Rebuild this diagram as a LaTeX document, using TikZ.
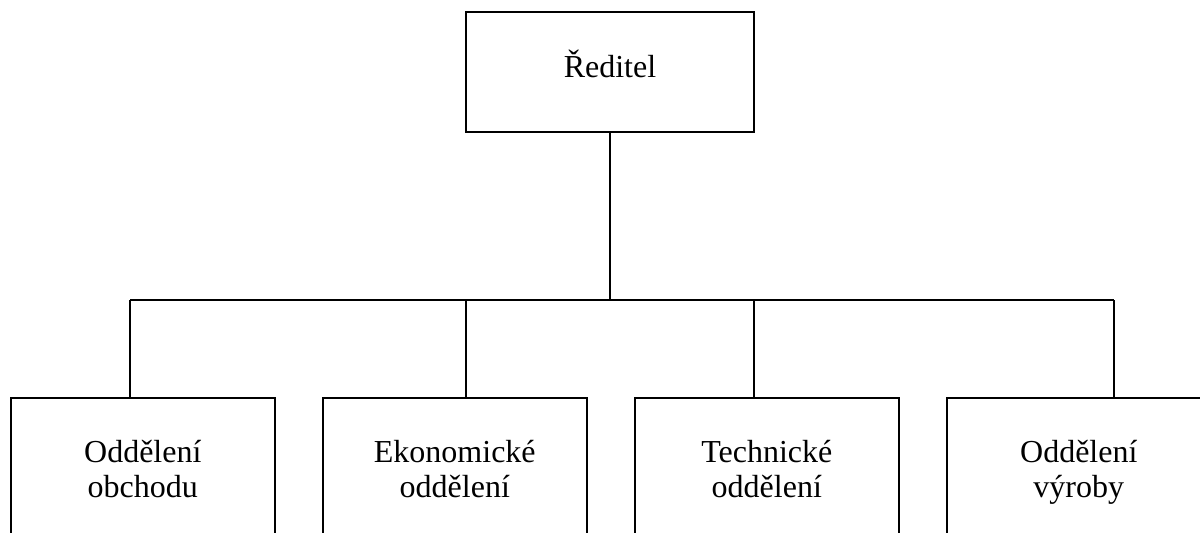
\documentclass[tikz,border=0pt]{standalone}
\usepackage{fontspec}
\setmainfont{Liberation Serif}
\begin{document}
\begin{tikzpicture}[x=1pt,y=-1pt,
  line width=1.6pt,
  orgbox/.style={draw=black, fill=white, inner sep=0pt, align=center,
    font=\fontsize{32}{35}\selectfont},
  headbox/.style={orgbox, minimum width=288pt, minimum height=120pt,
    text height=20pt, text depth=10pt},
  deptbox/.style={orgbox, minimum width=264pt, minimum height=160pt,
    text height=55pt, text depth=15pt},
  link/.style={draw=black, line width=1.6pt}]
\useasboundingbox (0,0) rectangle (1200,533);
\clip (0,0) rectangle (1200,533);

% head of the company
\node[headbox] (boss) at (610,72) {Ředitel};

% departments
\node[deptbox, anchor=north west] (d1) at (10,397) {Oddělení\\obchodu};
\node[deptbox, anchor=north west] (d2) at (322,397) {Ekonomické\\oddělení};
\node[deptbox, anchor=north west] (d3) at (634,397) {Technické\\oddělení};
\node[deptbox, anchor=north west] (d4) at (946,397) {Oddělení\\výroby};

% junction points on the distribution line
\coordinate (bus) at (610,300);
\coordinate (j1) at (130,300);
\coordinate (j2) at (466,300);
\coordinate (j3) at (754,300);
\coordinate (j4) at (1114,300);

\draw[link] (boss.south) -- (bus);
\draw[link] (j1) -- (j4);
\draw[link] (j1) -- (j1 |- d1.north);
\draw[link] (j2) -- (j2 |- d2.north);
\draw[link] (j3) -- (j3 |- d3.north);
\draw[link] (j4) -- (j4 |- d4.north);
\end{tikzpicture}
\end{document}
